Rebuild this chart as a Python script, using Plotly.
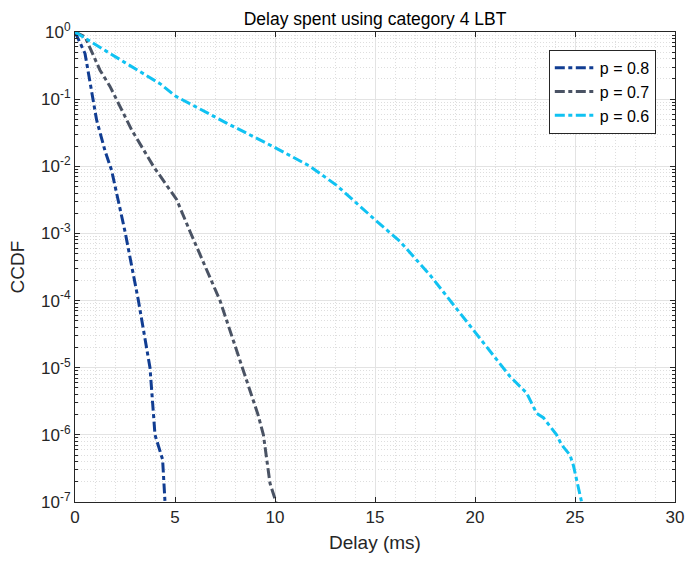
import plotly.graph_objects as go

# ---- data ----
labels = ["p = 0.8", "p = 0.7", "p = 0.6"]

delay_p08 = [0, 0.5, 1.08, 1.5, 1.83, 2.5, 3.17, 3.75, 4.0, 4.25, 4.38, 4.5]
ccdf_p08 = [1, 0.48, 0.049, 0.017, 0.0087, 1.07e-3, 1e-4, 1e-5, 1e-6, 5.6e-7, 4.3e-7, 1e-7]

delay_p07 = [0, 0.5, 1.25, 1.75, 2.83, 3.42, 3.92, 5.08, 5.75, 7.25, 8.08, 8.83, 9.15, 9.42, 9.75, 10.05]
ccdf_p07 = [1, 0.85, 0.27, 0.155, 0.035, 0.0174, 0.01, 3.2e-3, 1.07e-3, 1e-4, 1.8e-5, 3.7e-6, 2e-6, 1e-6, 1.9e-7, 1e-7]

delay_p06 = [0, 0.9, 2.5, 4.25, 5, 7.58, 10, 11.75, 13.08, 15, 16.25, 17.75, 18.75, 20, 20.75,
             21.75, 22.58, 23.08, 23.42, 23.83, 24.08, 24.33, 24.75, 24.92, 25.08, 25.33]
ccdf_p06 = [1, 0.68, 0.35, 0.17, 0.112, 0.044, 0.019, 0.01, 5.2e-3, 1.6e-3, 7.6e-4, 2.4e-4, 1e-4, 3.4e-5, 1.8e-5,
            7.4e-6, 4.2e-6, 2.1e-6, 1.8e-6, 1.26e-6, 1e-6, 7.1e-7, 5e-7, 3.5e-7, 2.1e-7, 1e-7]

x_ticks = [0, 5, 10, 15, 20, 25, 30]
y_ticks = [1e-7, 1e-6, 1e-5, 1e-4, 1e-3, 1e-2, 1e-1, 1]
y_ticktext = ["10<sup>-7</sup>", "10<sup>-6</sup>", "10<sup>-5</sup>", "10<sup>-4</sup>",
              "10<sup>-3</sup>", "10<sup>-2</sup>", "10<sup>-1</sup>", "10<sup>0</sup>"]

colors = ["#113D92", "#4A5364", "#10C2F2"]
series = [(delay_p08, ccdf_p08), (delay_p07, ccdf_p07), (delay_p06, ccdf_p06)]

FONT = "Liberation Sans, Arial, sans-serif"
AX = "#262626"

fig = go.Figure()
for (xs, ys), name, c in zip(series, labels, colors):
    fig.add_trace(go.Scatter(
        x=xs, y=ys, mode="lines", name=name,
        line=dict(color=c, width=3, dash="10px,3.5px,4px,3.5px"),
    ))

fig.update_layout(
    width=685, height=561,
    margin=dict(l=75, r=10, t=32, b=59, autoexpand=False),
    paper_bgcolor="white", plot_bgcolor="white",
    font=dict(family=FONT, color=AX, size=17),
    title=dict(text="Delay spent using category 4 LBT", x=(75 + 675) / 2 / 685, xref="container",
               xanchor="center", y=1 - 19 / 561, yref="container", yanchor="middle",
               font=dict(size=17.5, color="#000000")),
    showlegend=True,
    legend=dict(x=0.968, y=0.962, xanchor="right", yanchor="top",
                bgcolor="white", bordercolor="#262626", borderwidth=1, itemwidth=40,
                font=dict(size=16, color="#000000"), tracegroupgap=0),
)

fig.update_xaxes(
    range=[0, 30], tickvals=x_ticks, ticktext=[str(v) for v in x_ticks],
    showline=True, linecolor=AX, linewidth=1, mirror="ticks", automargin=False,
    ticks="inside", ticklen=5, tickcolor=AX,
    showgrid=True, gridcolor="#e3e3e3", gridwidth=1, zeroline=False,
    minor=dict(dtick=1, showgrid=True, gridcolor="#dedede", griddash="1px,2px", ticks=""),
    title=dict(text="Delay (ms)", font=dict(size=19, color=AX), standoff=9),
    tickfont=dict(size=17, color=AX),
)
fig.update_yaxes(
    type="log", range=[-7, 0], tickvals=y_ticks, ticktext=y_ticktext,
    showline=True, linecolor=AX, linewidth=1, mirror="ticks", automargin=False,
    ticks="inside", ticklen=5, tickcolor=AX,
    showgrid=True, gridcolor="#e3e3e3", gridwidth=1, zeroline=False,
    minor=dict(dtick="D1", showgrid=True, gridcolor="#dedede", griddash="1px,2px",
               ticks="inside", ticklen=3, tickcolor=AX),
    title=dict(text="CCDF", font=dict(size=19, color=AX), standoff=11),
    tickfont=dict(size=17, color=AX),
)

fig.write_html("out.html")
